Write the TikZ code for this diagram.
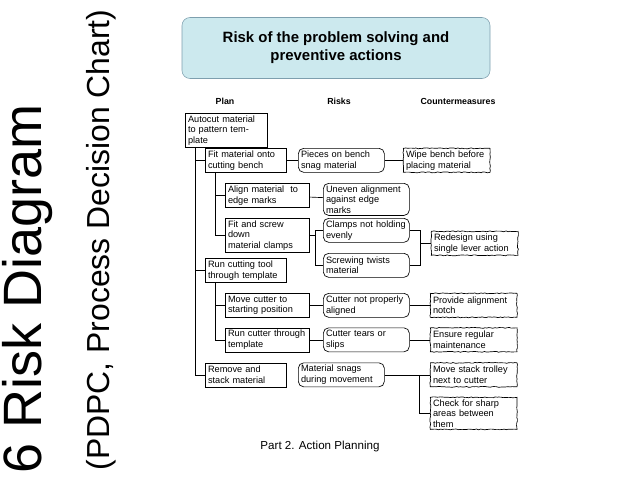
\documentclass[tikz,border=0pt]{standalone}
\usepackage{fontspec}
\setmainfont{Liberation Sans}
\usetikzlibrary{decorations.pathmorphing}
\tikzset{
  base/.style={draw=black, line width=0.5pt, anchor=north west, minimum height=18pt, inner xsep=2pt, inner ysep=1.5pt, align=left, font=\fontsize{6.9}{8}\selectfont},
  plan/.style={base, text width=#1},
  risk/.style={base, rounded corners=4pt, text width=60.5pt},
  cmbox/.style={base, text width=61pt, decorate, decoration={random steps, segment length=1.5pt, amplitude=0.35pt}},
  hdr/.style={font=\bfseries\fontsize{6.6}{8}\selectfont},
  link/.style={line width=0.5pt}
}
\begin{document}
\begin{tikzpicture}[x=0.75pt,y=-0.75pt]
\useasboundingbox (0,0) rectangle (638,478);
% side titles
\node[rotate=90, font=\fontsize{40.5}{42}\selectfont] (big) at (28,289) {6 Risk Diagram};
\node[rotate=90, font=\fontsize{23.9}{26}\selectfont] (sub) at (101,240) {(PDPC, Process Decision Chart)};
% title
\node[draw=gray!70!cyan, fill={rgb,255:red,204;green,233;blue,238}, rounded corners=6pt, minimum width=231pt, minimum height=45.75pt, align=center, font=\bfseries\fontsize{11.2}{13.5}\selectfont] (title) at (336,48) {Risk of the problem solving and\\preventive actions};
% headers
\node[hdr] (h1) at (225,101) {Plan};
\node[hdr] (h2) at (339,101) {Risks};
\node[hdr] (h3) at (458,101) {Countermeasures};
% plan
\node[plan=57.5pt] (auto) at (185,113) {Autocut material\\to pattern template};
\node[plan=57pt] (fit) at (205,148) {Fit material onto\\cutting bench};
\node[plan=59pt] (align) at (225,183) {Align material\ \ to\\edge marks};
\node[plan=59pt] (screw) at (225,218) {Fit and screw down\\material clamps};
\node[plan=57pt] (run) at (205,258) {Run cutting tool\\through template};
\node[plan=59pt] (move) at (225,293) {Move cutter to\\starting position};
\node[plan=59pt] (rct) at (225,327.5) {Run cutter through\\template};
\node[plan=57pt] (rem) at (205,362.5) {Remove and\\stack material};
% risks
\node[risk] (pieces) at (298,148) {Pieces on bench\\snag material};
\node[risk] (uneven) at (323,183) {Uneven alignment\\against edge marks};
\node[risk] (clamps) at (323,218) {Clamps not holding\\evenly};
\node[risk] (twist) at (323,253) {Screwing twists\\material};
\node[risk] (notal) at (323,293) {Cutter not properly\\aligned};
\node[risk] (tears) at (323,327.5) {Cutter tears or\\slips};
\node[risk] (snags) at (298,362.5) {Material snags\\during movement};
% countermeasures
\node[cmbox] (wipe) at (403,148) {Wipe bench before\\placing material};
\node[cmbox] (redesign) at (431,231) {Redesign using\\single lever action};
\node[cmbox] (notch) at (430,293) {Provide alignment\\notch};
\node[cmbox] (maint) at (430,327.5) {Ensure regular\\maintenance};
\node[cmbox] (trolley) at (430,362.5) {Move stack trolley\\next to cutter};
\node[cmbox] (sharp) at (430,397) {Check for sharp\\areas between them};
% connectors
\draw[link] ([xshift=7.5pt]auto.south west) |- (rem.west);
\draw[link] ([xshift=7.5pt]auto.south west) |- (fit.west);
\draw[link] ([xshift=7.5pt]auto.south west) |- (run.west);
\draw[link] ([xshift=7.5pt]fit.south west) |- (screw.west);
\draw[link] ([xshift=7.5pt]fit.south west) |- (align.west);
\draw[link] ([xshift=7.5pt]run.south west) |- (rct.west);
\draw[link] ([xshift=7.5pt]run.south west) |- (move.west);
\draw[link] (fit) -- (pieces) -- (wipe);
\draw[link] (align) -- (uneven);
\draw[link] (screw.east) -- ++(4.5pt,0) coordinate (j1) |- (clamps.west);
\draw[link] (j1) |- (twist.west);
\draw[link] (clamps.east) -- ++(8.25pt,0) coordinate (j2) |- (twist.east);
\draw[link] (j2 |- redesign.west) -- (redesign.west);
\draw[link] (move) -- (notal) -- (notch);
\draw[link] (rct) -- (tears) -- (maint);
\draw[link] (snags) -- (trolley);
\draw[link] (snags.east) -- ++(26.25pt,0) coordinate (j3) |- (sharp.west);
% footer
\node[font=\fontsize{8.7}{10}\selectfont] (foot) at (320,446) {Part 2. Action Planning};
\end{tikzpicture}
\end{document}
